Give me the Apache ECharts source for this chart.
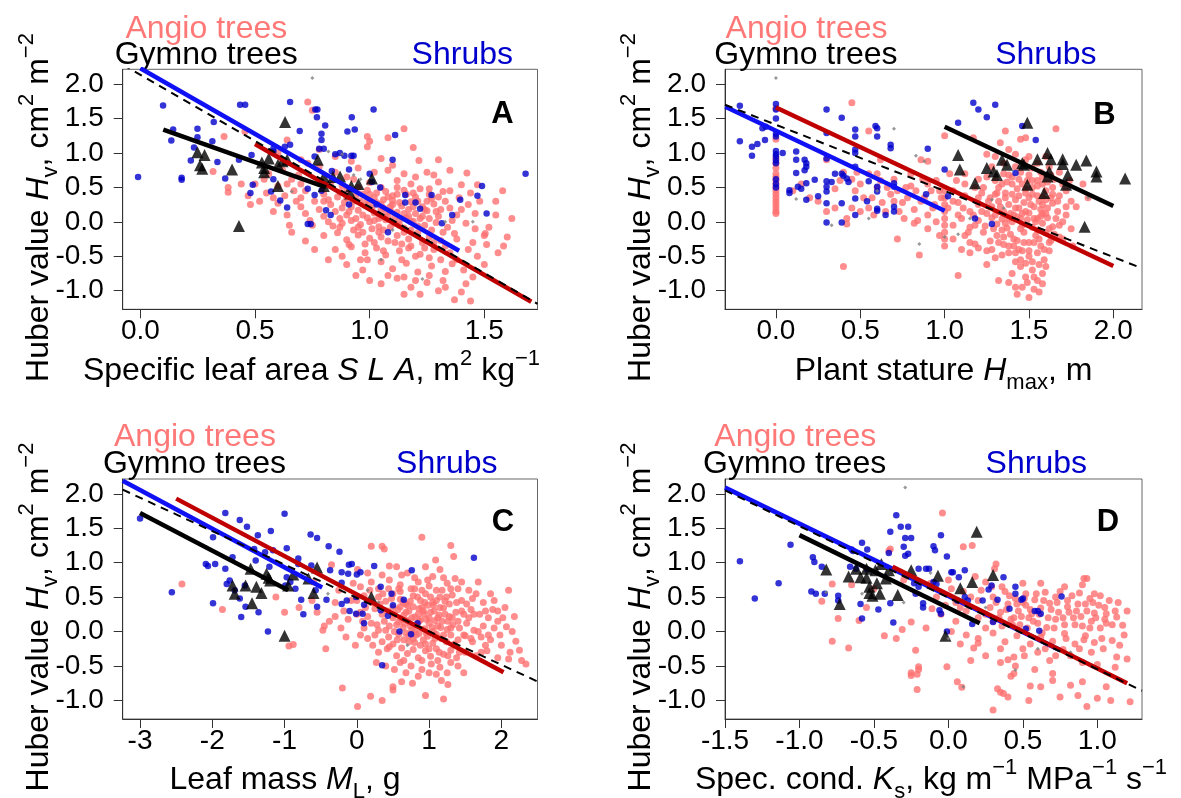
<!DOCTYPE html>
<html><head><meta charset="utf-8">
<script src="https://cdn.jsdelivr.net/npm/echarts@6/dist/echarts.min.js"></script>
<style>html,body{margin:0;padding:0;background:#fff}#c{width:1181px;height:798px}</style>
</head><body><div id="c"></div>
<script>
// ---------- Panel A: Specific leaf area ----------
const A_angio = [[0.73,1.74],[0.75,1.62],[0.365,1.24],[0.456,1.31],[0.317,0.73],[0.383,0.50],[0.383,0.43],[0.64,1.19],[1.15,1.35],[0.99,1.24],[1.0,1.17],[0.99,1.09],[1.08,1.22],[1.19,1.08],[1.215,0.89],[1.424,0.71],[0.85,0.95],[0.92,0.88],[0.78,1.05],[1.05,0.92],[1.3,0.9],[0.7,0.9],[0.6,1.0],
[0.85,0.72],[0.95,0.78],[1.08,0.75],[1.15,0.70],[1.25,0.72],[0.62,0.75],[0.56,0.70],[1.35,0.75],
[0.70,0.55],[0.78,0.60],[0.88,0.52],[0.93,0.62],[1.00,0.57],[1.05,0.50],[1.12,0.60],[1.18,0.55],[1.22,0.48],[1.30,0.58],[1.40,0.54],[1.47,0.54],[0.60,0.52],[0.50,0.55],[0.66,0.62],
[0.55,0.42],[0.63,0.38],[0.72,0.45],[0.80,0.40],[0.86,0.36],[0.90,0.45],[0.97,0.40],[1.02,0.35],[1.07,0.44],[1.10,0.38],[1.15,0.46],[1.20,0.36],[1.26,0.40],[1.32,0.44],[0.47,0.38],[0.68,0.30],
[0.60,0.27],[0.70,0.22],[0.76,0.30],[0.83,0.25],[0.88,0.20],[0.93,0.30],[0.98,0.24],[1.03,0.28],[1.06,0.20],[1.10,0.31],[1.14,0.23],[1.18,0.29],[1.23,0.22],[1.28,0.26],[1.35,0.20],[0.52,0.30],
[0.72,0.12],[0.80,0.08],[0.85,0.15],[0.90,0.10],[0.95,0.17],[0.99,0.06],[1.02,0.13],[1.05,0.18],[1.08,0.09],[1.12,0.14],[1.16,0.06],[1.20,0.12],[1.25,0.16],[1.30,0.08],[1.38,0.10],[0.64,0.10],
[0.75,-0.05],[0.82,0.00],[0.87,-0.08],[0.92,0.02],[0.96,-0.04],[1.00,0.00],[1.04,-0.07],[1.07,0.03],[1.11,-0.02],[1.15,-0.09],[1.19,0.01],[1.24,-0.05],[1.29,-0.01],[1.34,-0.08],[1.42,-0.02],[0.93,-0.12],
[0.80,-0.20],[0.86,-0.16],[0.90,-0.26],[0.95,-0.19],[1.00,-0.24],[1.04,-0.15],[1.08,-0.28],[1.12,-0.20],[1.17,-0.25],[1.21,-0.16],[1.26,-0.22],[1.31,-0.27],[1.37,-0.17],[0.72,-0.28],[1.45,-0.30],
[0.85,-0.40],[0.92,-0.36],[0.98,-0.45],[1.03,-0.38],[1.07,-0.48],[1.13,-0.42],[1.18,-0.35],[1.22,-0.47],[1.28,-0.40],[1.35,-0.45],[1.43,-0.40],[0.88,-0.50],
[0.90,-0.62],[0.97,-0.70],[1.05,-0.58],[1.10,-0.68],[1.16,-0.60],[1.21,-0.73],[1.27,-0.64],[1.33,-0.72],[1.36,-0.61],[0.82,-0.55],
[1.00,-0.85],[1.05,-0.90],[1.12,-0.82],[1.18,-0.95],[1.25,-0.88],[1.30,-1.00],[1.22,-1.05],[1.37,-1.13],[1.44,-1.15],[1.42,-0.90],[1.40,-1.02],[1.08,-0.78],
[0.97,0.10],[1.01,0.20],[1.04,0.05],[1.09,0.16],[1.13,0.02],[1.17,0.18],[1.06,-0.12],[1.10,0.25],[0.94,0.05],[1.18,-0.12],[1.02,-0.30],[1.14,-0.32],[0.99,0.32],[1.08,0.36],[0.89,0.28],[1.21,0.30],[1.26,0.05],[1.31,0.18],[0.84,-0.06],[0.91,-0.33],[1.23,-0.30],[1.27,0.34],[1.16,0.40],[1.12,0.50],[0.95,0.50],
[1.504,-0.17],[1.584,-0.35],[1.51,-0.33],[1.55,0.10],[1.60,-0.22],[1.52,-0.08],[1.48,0.30],[1.55,0.30],[1.47,-0.50],[1.50,-0.62],[1.32,-0.85],[1.15,-1.05],[0.96,-0.55],[0.76,-0.40],[0.78,0.80],[0.58,0.15],[0.66,-0.15],
[0.82,0.32],[0.87,0.43],[0.91,0.15],[0.94,0.38],[0.97,-0.15],[0.99,0.46],[1.01,-0.1],[1.03,0.42],[1.05,0.08],[1.06,0.32],[1.09,-0.08],[1.11,0.07],[1.13,0.28],[1.15,-0.15],[1.17,0.08],[1.19,0.22],[1.21,-0.06],[1.23,0.08],[1.25,0.30],[1.27,-0.12],[1.29,0.15],[1.32,-0.15],[1.33,0.30],[1.36,0.02],[1.39,0.35],[0.88,-0.02],[0.92,0.22],[0.96,0.30],[0.98,-0.32],[1.0,0.40],[1.02,0.02],[1.05,-0.22],[1.07,0.12],[1.09,0.22],[1.11,-0.30],[1.13,-0.05],[1.15,0.12],[1.17,-0.38],[1.19,0.42],[1.22,0.05],[1.24,-0.38],[1.26,0.48],[1.28,-0.30],[1.3,0.36],[1.33,-0.35],[1.35,0.45],[1.38,-0.25],[1.4,0.18],[0.78,0.18],[0.74,0.02],[0.7,0.35],[0.67,0.45],[0.64,0.55],[0.58,0.35],[0.54,0.62],[0.65,-0.05],[0.83,0.55],[0.9,0.65],[1.02,0.72],[1.1,0.82],[1.2,0.65],[1.28,0.68],[0.99,-0.55],[1.06,-0.42],[1.14,-0.55],[1.2,-0.5],[1.26,-0.52],[1.31,-0.55],[1.38,-0.55],[1.41,-0.7],[1.45,-0.8],[0.94,-0.78],[1.15,-0.8],[1.26,-0.78],[1.33,-0.95],[1.2,-0.85],[0.87,0.05],[0.95,-0.08],[1.0,0.28],[1.12,0.4],[1.05,0.25],[1.18,0.0],[1.24,0.18],[0.9,0.35],[0.8,0.3],[1.46,0.12],[1.43,0.25],[1.5,-0.2],[1.46,-0.1],[1.56,-0.45],[1.62,0.05],[1.58,0.45],[1.44,0.42],[0.69,0.68],[0.73,0.85],[0.48,0.25],[0.44,0.55]];
const A_shrub = [[0.099,1.69],[-0.01,0.65],[0.18,0.64],[0.18,0.61],[0.135,1.18],[0.143,1.34],[0.249,1.35],[0.249,1.23],[0.234,1.08],[0.22,0.89],[0.314,1.17],[0.32,1.45],[0.336,0.87],[0.37,0.63],[0.435,1.70],[0.457,1.70],[0.43,0.90],[0.49,0.54],[0.48,0.42],[0.485,0.97],[0.653,1.74],[0.695,1.32],[0.653,1.12],[0.58,1.06],[0.58,1.02],[0.63,1.09],[0.58,0.62],[0.57,0.44],[0.61,0.31],[0.64,0.21],[0.743,-0.03],
[0.763,1.63],[0.772,1.63],[0.77,1.52],[1.017,1.63],[0.806,1.40],[0.922,1.52],[0.903,1.31],[0.935,1.34],[0.79,1.28],[0.79,1.19],[0.78,1.06],[0.80,1.06],[0.85,0.98],[0.87,1.0],[0.89,0.96],[0.92,0.96],[0.93,0.96],[1.111,1.26],[1.10,0.90],[0.76,0.95],[0.835,0.74],[0.91,0.76],[1.0,0.70],[1.01,0.58],[1.046,0.50],[1.155,0.39],[1.27,0.39],[1.155,0.28],[1.20,0.28],[1.22,0.19],[1.315,-0.02],[1.08,-0.15],[1.36,0.10],[1.395,0.32],[1.47,0.38],[1.49,0.52],[1.51,0.12],[0.73,-0.03],[0.81,0.17],[0.83,0.10],[0.91,0.25],[1.03,0.25],[0.73,0.48],[0.76,0.39],[0.79,0.45],[1.68,0.70]];
const A_gymno = [[0.249,1.01],[0.28,0.97],[0.26,0.82],[0.27,0.77],[0.40,0.76],[0.43,-0.06],[0.631,1.45],[0.53,0.86],[0.54,0.78],[0.56,0.92],[0.60,0.83],[0.62,0.88],[0.64,0.90],[0.54,0.72],[0.60,0.52],[0.774,0.90],[0.80,0.65],[0.80,0.52],[0.84,0.65],[0.871,0.66],[0.915,0.41],[0.951,0.55],[1.01,0.63],[0.92,0.52]];
const A_other = [[0.75,2.09],[0.66,0.44],[0.88,0.98],[0.93,0.68],[1.1,-0.12],[1.33,0.0],[1.23,-0.83],[1.05,-0.55],[1.45,0.0],[0.96,0.62],[0.82,1.02]];
const A_fitAngio = [[0.5,1.13],[1.705,-1.16]];
const A_fitShrub = [[0.0,2.23],[1.39,-0.42]];
const A_fitGymno = [[0.10,1.34],[0.81,0.50]];
const A_fitAll = [[-0.077,2.283],[1.732,-1.19]];

// ---------- Panel B: Plant stature ----------
const B_angio = [[0,1.65],[0,1.2],[0,0.92],[0,0.85],[0,0.78],[0,0.7],[0,0.65],[0,0.6],[0,0.55],[0,0.5],[0,0.45],[0,0.4],[0,0.35],[0,0.3],[0,0.25],[0,0.2],[0,0.15],[0,0.12],
[0.45,1.73],[0.4,0.72],[0.38,0.6],[0.45,0.2],[0.42,0.05],[0.40,-0.65],[0.42,-0.03],[0.5,0.55],[0.52,0.35],[0.55,0.2],[0.55,1.32],[0.6,0.7],[0.6,0.5],[0.62,0.9],[0.63,0.28],[0.65,0.15],[0.68,0.4],[0.7,0.62],[0.72,0.45],[0.72,-0.25],[0.75,0.28],[0.76,0.05],[0.78,0.35],[0.8,0.52],[0.82,0.18],[0.82,-0.02],[0.84,0.02],[0.86,0.9],[0.87,0.62],[0.88,0.35],[0.9,0.1],[0.9,-0.1],[0.92,0.45],[0.93,0.2],[0.95,0.0],[0.95,0.6],[0.97,-0.2],[0.98,0.35],[0.85,-0.48],[0.35,0.48],[0.25,0.3],[0.3,0.9],[0.48,0.72],[0.57,0.35],
[1.0,1.25],[1.0,0.45],[1.0,0.35],[1.0,0.25],[1.0,0.15],[1.0,0.05],[1.0,-0.05],[1.0,-0.15],[1.0,-0.25],[1.0,-0.35],
[1.17,1.22],[1.33,1.15],[1.38,1.05],[1.45,1.2],[1.48,1.22],[1.42,0.98],[1.5,0.95],[1.36,1.32],[1.66,1.35],[1.25,0.98],
[1.12,0.7],[1.2,0.62],[1.28,0.8],[1.35,0.7],[1.4,0.65],[1.45,0.72],[1.52,0.78],[1.58,0.65],[1.62,0.8],[1.55,0.6],[1.3,0.6],[1.68,0.72],
[1.05,0.45],[1.12,0.38],[1.18,0.5],[1.22,0.42],[1.27,0.35],[1.32,0.5],[1.36,0.42],[1.4,0.55],[1.44,0.38],[1.48,0.48],[1.52,0.4],[1.55,0.52],[1.58,0.36],[1.6,0.45],[1.64,0.5],[1.68,0.38],[1.72,0.45],
[1.02,0.2],[1.08,0.28],[1.15,0.15],[1.2,0.25],[1.25,0.12],[1.28,0.22],[1.32,0.3],[1.35,0.15],[1.38,0.25],[1.41,0.1],[1.44,0.2],[1.47,0.28],[1.5,0.13],[1.53,0.22],[1.56,0.3],[1.58,0.12],[1.61,0.2],[1.64,0.27],[1.67,0.15],[1.72,0.22],
[1.05,-0.05],[1.1,0.05],[1.15,-0.08],[1.2,0.02],[1.24,-0.06],[1.28,0.06],[1.31,-0.03],[1.34,0.04],[1.37,-0.09],[1.4,0.0],[1.43,0.07],[1.46,-0.05],[1.49,0.03],[1.52,-0.08],[1.55,0.05],[1.58,-0.02],[1.61,0.06],[1.64,-0.07],[1.7,0.0],
[1.05,-0.25],[1.12,-0.2],[1.18,-0.32],[1.23,-0.15],[1.27,-0.28],[1.31,-0.2],[1.35,-0.33],[1.39,-0.18],[1.43,-0.27],[1.47,-0.15],[1.5,-0.3],[1.54,-0.2],[1.57,-0.35],[1.6,-0.16],[1.63,-0.27],[1.68,-0.22],
[1.15,-0.45],[1.25,-0.42],[1.3,-0.52],[1.38,-0.45],[1.42,-0.58],[1.46,-0.42],[1.5,-0.5],[1.55,-0.45],[1.59,-0.55],[1.62,-0.42],[1.2,-0.38],
[1.4,-0.75],[1.45,-0.65],[1.48,-0.8],[1.52,-0.7],[1.55,-0.85],[1.58,-0.75],[1.38,-0.88],[1.32,-0.85],[1.42,-0.95],[1.5,-1.1],[1.53,-0.98],[1.56,-1.02],[1.6,-0.65],[1.08,-0.78],[1.25,-0.62],
[1.82,0.55],[1.78,0.22],[1.75,-0.1],[1.85,0.35],[1.76,-0.35],[0.9,0.88],
[1.38,0.05],[1.42,0.32],[1.46,0.12],[1.5,0.35],[1.53,0.05],[1.57,0.18],[1.45,-0.1],[1.48,0.42],[1.36,0.35],[1.6,0.32],[1.62,-0.1],[1.34,-0.12],[1.55,-0.12],[1.41,-0.35],[1.3,0.4],[1.52,0.6],[1.65,0.62],[1.22,0.15],[1.18,-0.05],[1.58,0.55],
[1.3,0.1],[1.33,0.22],[1.36,-0.02],[1.39,0.12],[1.42,0.2],[1.45,0.05],[1.48,0.15],[1.51,0.25],[1.54,0.0],[1.57,0.08],[1.6,0.12],[1.63,0.35],[1.66,0.05],[1.31,0.42],[1.34,0.55],[1.37,0.58],[1.4,0.4],[1.43,0.48],[1.46,0.55],[1.49,0.6],[1.52,0.5],[1.55,0.38],[1.58,0.25],[1.61,0.58],[1.64,0.4],[1.67,0.3],[1.7,0.55],[1.29,-0.1],[1.32,-0.3],[1.35,-0.22],[1.38,-0.35],[1.41,-0.25],[1.44,-0.4],[1.47,-0.3],[1.5,-0.42],[1.53,-0.3],[1.56,-0.25],[1.59,-0.4],[1.62,-0.3],[1.65,-0.18],[1.68,-0.05],[1.26,0.3],[1.23,0.5],[1.2,0.35],[1.17,0.1],[1.14,-0.15],[1.11,0.2],[1.08,0.1],[1.05,0.3],[1.35,0.85],[1.42,0.8],[1.48,0.9],[1.55,0.85],[1.6,0.95],[1.3,0.95],[1.25,0.65],[1.5,0.68],[1.44,0.62],[1.38,0.68],[1.57,0.72],[1.63,0.68],[1.45,-0.55],[1.48,-0.6],[1.52,-0.58],[1.56,-0.62],[1.42,-0.45],[1.34,-0.48],[1.28,-0.4],[1.53,-0.8],[1.49,-0.88],[1.46,-0.95],[1.58,-0.9],[1.43,-1.05],[1.1,-0.4],[1.15,-0.3],[1.12,0.55],[1.07,0.6],[1.03,0.7],[0.97,0.45],[0.94,0.25],[0.9,0.55],[0.86,0.3],[0.83,0.45],[0.8,0.7],[0.77,0.5],[0.73,0.15],[0.7,0.3],[0.66,0.5],[0.62,0.6],[0.58,0.1],[0.55,0.7],[0.5,0.15],[0.47,0.45],[0.45,0.62],[0.35,0.2],[0.2,0.35],[0.15,0.55],[0.1,0.45],[0.3,0.15],[1.72,0.1],[1.75,0.3],[1.7,-0.25],[1.74,0.6]];
const B_shrub = [[-0.214,1.685],[-0.214,1.17],[-0.142,1.09],[-0.142,0.96],[-0.11,1.13],[-0.065,1.19],[-0.08,1.36],[-0.06,1.38],
[0,1.71],[0,1.63],[0,1.50],[0,1.28],[0,1.24],[0,1.03],[0,0.98],[0,0.95],[0,0.89],[0,0.85],[0,0.62],[0,0.55],[0,0.50],
[0.04,1.0],[0.08,0.46],[0.08,0.42],[0.12,1.02],[0.12,0.90],[0.12,0.71],[0.13,0.51],[0.15,0.48],[0.17,0.90],[0.18,0.85],[0.18,0.80],[0.17,0.75],[0.18,0.56],[0.18,0.32],[0.23,0.61],[0.25,0.37],
[0.30,1.63],[0.30,1.29],[0.30,0.92],[0.30,0.59],[0.30,0.51],[0.30,0.44],[0.30,0.27],[0.30,-0.01],[0.33,0.58],[0.35,0.70],[0.39,1.51],[0.39,0.70],[0.40,0.67],[0.42,0.63],[0.39,0.27],[0.39,-0.01],[0.43,0.58],
[0.47,1.34],[0.47,1.24],[0.47,1.05],[0.47,1.0],[0.47,0.80],[0.47,0.34],[0.47,0.10],[0.54,0.30],[0.55,0.59],[0.59,1.39],[0.6,1.36],[0.6,1.24],[0.6,0.51],[0.6,0.44],[0.6,0.19],[0.6,0.16],[0.65,0.10],[0.68,1.12],[0.68,1.07],[0.7,0.56],[0.7,0.51],[0.7,0.22],[0.7,0.15],
[0.89,0.40],[0.90,1.06],[1.0,0.76],[1.02,0.37],[1.08,1.44],[1.17,1.73],[1.2,1.63],[1.25,1.52],[1.30,1.70],[1.46,1.39],[1.54,1.19],[1.18,0.05],[1.28,-0.03],[1.42,0.71]];
const B_gymno = [[1.08,0.97],[1.09,0.76],[1.18,0.56],[1.25,0.78],[1.29,0.73],[1.31,0.68],[1.34,0.90],[1.37,0.83],[1.46,0.85],[1.47,0.83],[1.49,1.44],[1.49,0.54],[1.55,0.91],[1.59,0.42],[1.61,1.0],[1.63,0.91],[1.61,0.66],[1.62,0.73],[1.70,0.91],[1.70,0.84],[1.73,0.68],[1.78,0.83],[1.84,0.89],[1.90,0.73],[1.90,0.66],[2.07,0.63],[1.83,-0.07],[1.72,0.54]];
const B_other = [[0,2.09],[0.7,1.35],[0.12,0.33],[0.55,0.05],[0.33,-0.05],[0.83,0.96],[0.88,0.88],[0.85,-0.32],[1.0,-0.22],[1.08,-0.18],[1.35,0.2],[1.28,0.32],[1.85,0.35],[0.6,0.45],[1.15,0.05]];
const B_fitAngio = [[0,1.66],[2.0,-0.64]];
const B_fitShrub = [[-0.3,1.67],[1.0,0.16]];
const B_fitGymno = [[1.0,1.38],[2.0,0.23]];
const B_fitAll = [[-0.302,1.70],[2.17,-0.675]];

// ---------- Panel C: Leaf mass ----------
const C_angio = [[-2.42,0.69],[-1.86,0.32],[-1.12,0.50],[-1.0,0.28],[-0.94,-0.21],[-0.88,-0.19],[-0.80,0.35],[-0.62,0.45],[-0.55,0.28],[-0.47,0.02],[-0.43,-0.25],[-0.35,0.97],[-0.38,0.15],[-0.30,0.42],[-0.25,0.60],[-0.22,0.05],[-0.18,0.30],[-0.15,-0.08],[-0.12,0.18],[-0.08,0.45],[-0.05,0.70],[-0.45,0.08],[-0.3,0.22],[-0.6,0.72],
[0.2,1.24],[0.35,1.24],[0.38,1.20],[0.9,1.37],[0.95,0.94],[1.09,1.04],[1.3,1.25],[1.34,1.09],[1.36,0.77],[0.55,0.94],[0.01,0.90],[0.7,0.85],[1.15,0.9],[0.45,0.95],
[0.05,0.65],[0.2,0.72],[0.3,0.62],[0.45,0.75],[0.6,0.68],[0.75,0.62],[0.85,0.72],[1.0,0.66],[1.1,0.60],[1.25,0.70],[1.4,0.62],[1.55,0.60],[1.68,0.72],
[0.0,0.45],[0.1,0.52],[0.2,0.42],[0.3,0.50],[0.4,0.44],[0.5,0.55],[0.6,0.47],[0.68,0.40],[0.78,0.52],[0.88,0.45],[0.95,0.55],[1.05,0.42],[1.15,0.50],[1.22,0.44],[1.32,0.53],[1.45,0.45],[1.6,0.48],[1.75,0.42],[1.85,0.55],
[0.05,0.28],[0.15,0.22],[0.25,0.33],[0.35,0.25],[0.42,0.30],[0.5,0.20],[0.57,0.32],[0.65,0.24],[0.72,0.30],[0.8,0.21],[0.86,0.33],[0.93,0.26],[1.0,0.20],[1.07,0.30],[1.14,0.24],[1.2,0.34],[1.28,0.22],[1.37,0.28],[1.48,0.25],[1.58,0.32],[1.7,0.25],[1.82,0.20],[1.95,0.30],
[0.1,0.05],[0.2,0.12],[0.3,0.02],[0.38,0.15],[0.45,0.08],[0.52,0.0],[0.58,0.14],[0.64,0.06],[0.7,0.16],[0.76,0.02],[0.82,0.10],[0.88,0.17],[0.94,0.04],[1.0,0.12],[1.06,0.0],[1.12,0.08],[1.18,0.15],[1.25,0.03],[1.33,0.10],[1.42,0.05],[1.52,0.12],[1.62,0.02],[1.75,0.08],[1.9,0.05],[2.07,0.07],[2.15,0.0],
[0.15,-0.10],[0.25,-0.05],[0.35,-0.15],[0.44,-0.08],[0.5,-0.18],[0.58,-0.04],[0.65,-0.12],[0.72,-0.06],[0.8,-0.16],[0.86,-0.03],[0.92,-0.12],[0.98,-0.07],[1.05,-0.17],[1.1,-0.04],[1.17,-0.10],[1.24,-0.15],[1.3,-0.05],[1.4,-0.12],[1.5,-0.06],[1.6,-0.15],[1.72,-0.08],[1.85,-0.12],[2.2,-0.14],
[0.3,-0.3],[0.42,-0.25],[0.55,-0.35],[0.62,-0.24],[0.7,-0.32],[0.78,-0.26],[0.85,-0.38],[0.95,-0.28],[1.02,-0.36],[1.1,-0.25],[1.2,-0.33],[1.3,-0.27],[1.38,-0.38],[1.5,-0.3],[1.65,-0.35],[1.8,-0.28],[1.95,-0.38],[2.25,-0.27],
[0.4,-0.5],[0.6,-0.45],[0.75,-0.5],[0.9,-0.55],[1.03,-0.47],[1.15,-0.52],[1.3,-0.45],[1.48,-0.6],[2.34,-0.47],[2.28,-0.42],[1.1,-0.62],
[-0.2,-0.82],[0.01,-1.09],[0.19,-0.94],[0.35,-1.0],[0.5,-0.8],[0.62,-0.73],[0.77,-0.75],[0.95,-0.93],[1.2,-0.98],[1.26,-0.77],[1.17,-0.71],[0.5,-0.85],
[2.1,0.6],[2.05,0.35],[1.95,0.15],[2.0,-0.2],[1.88,0.32],[1.78,-0.2],[2.12,-0.3],
[0.55,0.1],[0.62,0.18],[0.68,-0.02],[0.74,0.08],[0.8,0.0],[0.85,0.25],[0.9,0.35],[0.96,0.18],[1.02,0.28],[1.08,0.16],[0.7,0.38],[0.6,0.36],[0.5,0.35],[0.45,-0.22],[0.78,-0.1],[1.15,0.35],[1.26,0.15],[0.95,-0.18],
[0.12,0.35],[0.18,0.6],[0.22,-0.2],[0.28,0.1],[0.32,0.4],[0.36,0.55],[0.4,0.02],[0.44,0.62],[0.48,0.48],[0.52,0.25],[0.56,-0.12],[0.6,0.58],[0.64,0.42],[0.66,0.12],[0.68,0.28],[0.72,-0.15],[0.74,0.44],[0.76,0.2],[0.78,0.36],[0.82,-0.05],[0.84,0.5],[0.86,0.15],[0.88,-0.2],[0.9,0.6],[0.92,0.3],[0.94,0.42],[0.96,-0.02],[0.98,0.38],[1.0,-0.25],[1.02,0.5],[1.04,0.06],[1.06,0.38],[1.08,-0.1],[1.1,0.45],[1.12,0.2],[1.14,-0.3],[1.16,0.06],[1.18,0.6],[1.2,-0.05],[1.22,0.25],[1.24,0.5],[1.26,-0.35],[1.28,0.4],[1.3,0.05],[1.32,0.2],[1.35,-0.18],[1.38,0.42],[1.4,0.15],[1.42,-0.3],[1.45,0.3],[1.48,-0.05],[1.52,0.4],[1.55,0.2],[1.58,-0.1],[1.62,0.25],[1.65,0.55],[1.68,0.0],[1.72,-0.3],[1.78,0.3],[1.82,-0.05],[1.9,0.45],[1.98,-0.05],[2.02,0.2],[2.1,-0.4],[2.18,0.22],[0.62,0.82],[0.8,0.78],[1.05,0.8],[1.2,0.78],[0.35,0.82],[0.15,0.85],[0.08,0.15],[0.05,-0.05],[0.0,0.25],[-0.02,-0.2],[0.27,-0.45],[0.52,-0.55],[0.68,-0.6],[0.85,-0.65],[1.0,-0.6],[1.25,-0.6],[1.4,-0.5],[0.9,-0.42],[0.65,-0.42],[1.12,-0.42],[0.58,0.62],[0.8,0.62],[0.98,0.75],[1.3,0.62],[1.45,0.72]];
const C_shrub = [[-3.0,1.64],[-2.56,0.57],[-2.09,0.98],[-2.06,0.95],[-1.96,0.98],[-1.99,1.37],[-1.99,0.41],[-1.82,1.72],[-1.82,0.91],[-1.8,0.69],[-1.76,0.74],[-1.72,1.08],[-1.69,0.60],[-1.62,1.62],[-1.62,0.48],[-1.6,0.21],[-1.55,0.67],[-1.54,0.36],[-1.52,1.52],[-1.42,1.20],[-1.4,1.03],[-1.37,1.40],[-1.36,0.28],[-1.27,1.15],[-1.23,0.0],[-1.19,1.46],[-1.21,0.94],[-1.16,1.18],[-1.0,1.71],[-0.97,1.21],[-0.97,0.79],[-0.99,0.67],[-0.92,0.72],[-0.85,0.62],[-0.81,1.06],[-0.81,0.98],[-0.77,0.46],[-0.74,0.25],[-0.64,1.41],[-0.63,0.96],[-0.57,0.60],[-0.55,1.36],[-0.55,0.36],[-0.42,0.46],[-0.37,0.89],[-0.39,1.24],[-0.24,1.16],[-0.21,0.86],[-0.21,0.71],[-0.21,0.40],[-0.14,0.45],[-0.11,0.97],[-0.07,0.98],[-0.12,0.84],[-0.1,0.30],[-0.01,0.26],[0.08,0.26],[0.0,0.83],[0.05,0.86],[-0.01,0.50],[0.1,0.12],[0.1,0.39],[0.24,0.95],[0.33,0.65],[0.33,0.31],[0.35,-0.49],[0.43,0.23],[0.48,0.55],[0.5,0.38],[0.59,0.0],[0.65,0.46],[0.75,-0.04],[0.76,0.89],[0.84,0.12],[1.62,1.07]];
const C_gymno = [[-1.72,0.67],[-1.69,0.55],[-1.54,0.67],[-1.47,0.91],[-1.45,0.41],[-1.39,0.65],[-1.32,0.56],[-1.25,0.84],[-1.22,0.78],[-1.2,0.74],[-1.0,-0.06],[-0.95,0.67],[-0.88,0.83],[-0.67,0.77],[-0.6,0.56],[-0.55,0.93],[0.2,0.5]];
const C_other = [[0.3,0.42],[-0.4,0.55],[0.15,0.6],[0.7,-0.2]];
const C_fitAngio = [[-2.5,1.93],[2.03,-0.59]];
const C_fitShrub = [[-3.24,2.19],[-0.48,0.64]];
const C_fitGymno = [[-3.0,1.72],[-0.95,0.60]];
const C_fitAll = [[-3.24,2.06],[2.51,-0.73]];

// ---------- Panel D: Specific conductivity ----------
const D_angio = [[-0.04,1.72],[0.16,1.25],[0.1,1.23],[-0.39,1.20],[-0.4,1.17],[-0.85,0.44],[-0.78,0.69],[-0.74,0.19],[-0.78,-0.14],[-0.67,-0.24],[-0.6,0.16],[-0.55,0.35],[-0.43,-0.06],[-0.35,-0.10],[-0.31,0.03],[-0.25,0.14],[-0.25,-0.6],[-0.25,-0.64],[-0.21,-0.62],[-0.2,-0.55],[-0.21,-0.84],[-0.22,-0.27],[-0.2,-0.51],[-0.11,0.33],[-0.01,-0.51],[0.06,-0.73],[0.09,-0.81],[0.17,-0.24],[0.2,-0.17],[0.29,0.65],[0.31,0.91],[0.32,0.98],
[0.3,-1.14],[0.33,-0.83],[0.35,-0.88],[0.37,-0.9],[0.4,-0.95],[0.42,-0.65],[0.44,-0.61],[0.55,-0.79],[0.54,-1.0],[0.62,-0.8],[0.7,-0.61],[0.7,-0.71],[0.75,-0.95],[0.82,-0.78],[0.87,-0.93],[0.9,-0.73],[0.93,-1.09],[1.0,-0.97],[1.09,-1.0],[1.06,-0.8],[1.12,-0.52],[1.22,-1.02],[1.17,0.09],[1.13,0.21],[1.06,0.26],[1.06,0.12],[0.98,0.55],[0.91,0.77],[0.93,0.77],[1.13,-0.37],[1.1,-0.13],[1.04,-0.25],[0.77,-0.26],[0.51,-0.35],[0.4,-0.41],[0.44,-0.37],
[0.3,0.5],[0.38,0.58],[0.45,0.48],[0.52,0.55],[0.58,0.46],[0.65,0.57],[0.72,0.5],[0.8,0.45],[0.88,0.56],[0.95,0.48],[1.02,0.52],
[0.28,0.35],[0.35,0.28],[0.4,0.4],[0.47,0.3],[0.52,0.38],[0.56,0.26],[0.62,0.34],[0.68,0.41],[0.74,0.28],[0.8,0.36],[0.86,0.3],[0.92,0.4],[0.98,0.27],[1.05,0.35],[1.12,0.3],[0.5,0.42],[0.44,0.2],
[0.3,0.15],[0.36,0.08],[0.42,0.18],[0.48,0.1],[0.54,0.2],[0.6,0.12],[0.66,0.06],[0.72,0.18],[0.78,0.1],[0.84,0.2],[0.9,0.08],[0.96,0.15],[1.02,0.05],[0.25,0.05],[0.2,0.2],
[0.12,-0.05],[0.2,-0.1],[0.3,-0.02],[0.38,-0.15],[0.46,-0.06],[0.55,-0.18],[0.62,-0.08],[0.7,-0.14],[0.78,-0.03],[0.85,-0.18],[0.92,-0.06],[0.98,-0.16],[0.08,-0.18],[0.02,0.0],
[0.25,-0.35],[0.35,-0.45],[0.6,-0.3],[0.68,-0.42],[0.82,-0.35],[0.9,-0.45],[0.96,-0.3],[1.0,-0.48],[1.15,-0.2],[1.2,-0.4],[0.15,-0.42],
[-0.5,0.62],[-0.3,0.75],[-0.12,0.7],[-0.08,0.5],[0.02,0.62],[0.08,0.35],[0.15,0.5],[0.18,0.8],[0.25,0.72],[-0.05,0.25],[0.05,0.15],[-0.15,0.05],[-0.65,0.68],
[0.32,0.42],[0.34,0.2],[0.39,0.32],[0.41,0.52],[0.43,0.1],[0.46,0.4],[0.49,0.22],[0.51,0.48],[0.53,0.05],[0.55,0.32],[0.57,0.15],[0.59,0.55],[0.61,0.25],[0.63,-0.02],[0.64,0.45],[0.67,0.2],[0.69,0.32],[0.71,0.05],[0.73,0.42],[0.75,0.58],[0.77,0.2],[0.79,-0.1],[0.81,0.28],[0.83,0.52],[0.85,0.1],[0.87,0.4],[0.89,0.22],[0.91,-0.12],[0.93,0.3],[0.95,0.05],[0.97,0.42],[0.99,0.2],[1.01,0.38],[1.03,-0.1],[1.05,0.18],[1.08,0.45],[1.1,0.1],[1.14,0.42],[1.18,-0.05],[1.2,0.3],[0.36,0.65],[0.5,0.7],[0.62,0.7],[0.78,0.65],[0.9,0.68],[0.2,0.45],[0.22,0.6],[0.25,0.25],[0.12,0.3],[0.1,0.58],[0.05,0.42],[-0.02,0.38],[0.0,0.75],[0.35,-0.25],[0.5,-0.25],[0.65,-0.25],[0.72,-0.35],[0.88,-0.25],[0.45,-0.5],[0.58,-0.55]];
const D_shrub = [[-1.40,1.02],[-1.30,0.48],[-1.14,0.70],[-1.06,1.26],[-0.91,1.08],[-0.90,1.01],[-0.85,0.94],[-0.92,0.58],[-0.89,0.55],[-0.83,0.55],[-0.74,0.52],[-0.74,0.45],[-0.65,1.19],[-0.64,1.17],[-0.66,0.94],[-0.62,0.91],[-0.59,0.40],[-0.58,1.29],[-0.58,0.19],[-0.545,1.19],[-0.545,0.90],[-0.47,0.32],[-0.40,1.14],[-0.39,1.45],[-0.39,0.41],[-0.37,0.13],[-0.35,1.69],[-0.32,1.52],[-0.30,1.23],[-0.29,1.10],[-0.29,1.36],[-0.27,1.52],[-0.27,1.13],[-0.25,1.36],[-0.25,0.79],[-0.23,0.70],[-0.22,0.55],[-0.2,0.91],[-0.2,0.65],[-0.17,0.41],[-0.17,0.35],[-0.15,0.91],[-0.13,0.91],[-0.1,1.24],[-0.09,1.18],[-0.1,0.72],[-0.08,0.69],[-0.06,0.31],[-0.05,0.26],[-0.05,1.40],[-0.01,1.09],[-0.01,0.0],[0.02,0.86],[0.03,0.86],[0.06,0.45],[0.07,0.79],[0.11,0.89],[0.11,0.50],[0.13,0.45],[0.16,0.11],[0.23,0.45],[0.27,0.61],[0.29,0.67],[0.3,0.14],[0.33,0.46],[0.37,0.79],[0.41,0.33],[0.45,0.65],[0.45,0.55],[0.49,0.46],[0.5,0.48],[0.52,0.04],[0.58,0.30],[0.6,0.30],[0.61,0.01],[0.62,0.26],[0.76,0.51]];
const D_gymno = [[-0.82,0.90],[-0.73,0.40],[-0.67,0.80],[-0.62,0.91],[-0.59,0.79],[-0.55,0.91],[-0.55,0.78],[-0.53,0.65],[-0.53,0.56],[-0.51,0.52],[-0.49,0.89],[-0.48,0.70],[-0.46,0.55],[-0.45,0.98],[-0.42,0.77],[-0.40,0.89],[-0.34,0.53],[-0.25,0.89],[-0.07,0.81],[-0.02,-0.06],[0.08,0.63],[0.16,0.72],[0.19,1.45],[0.3,0.82]];
const D_other = [[-0.29,2.09],[-0.58,0.55],[-0.82,0.57],[0.1,-0.8],[0.45,-0.56],[0.6,-0.25],[0.82,-0.3],[-0.12,0.85],[0.0,-0.1],[0.25,0.35],[-0.3,0.42],[0.5,0.0]];
const D_fitAngio = [[-0.375,0.94],[1.2,-0.75]];
const D_fitShrub = [[-1.5,2.09],[0.75,-0.27]];
const D_fitGymno = [[-1.0,1.40],[0.21,0.12]];
const D_fitAll = [[-1.5,2.05],[1.3,-0.86]];

// ---------- Axes ----------
const xRangeA = [-0.077, 1.732], xRangeB = [-0.302, 2.17], xRangeC = [-3.24, 2.5], xRangeD = [-1.5, 1.30];
const yRange = [-1.27, 2.215];
const xTicksA = [0, 0.5, 1, 1.5];
const xTicksB = [0, 0.5, 1, 1.5, 2];
const xTicksC = [-3, -2, -1, 0, 1, 2];
const xTicksD = [-1.5, -1, -0.5, 0, 0.5, 1];
const yTicks = [-1, -0.5, 0, 0.5, 1, 1.5, 2];

const FONT = "'Liberation Sans', Arial, sans-serif";
const C_ANGIO = '#FF7070', C_ANGIO_TXT = '#FF7878', C_SHRUB = '#0000CC', C_SHRUB_LINE = '#1010F5', C_RED = '#C00000';

const panels = [
  {angio:A_angio, shrub:A_shrub, gymno:A_gymno, other:A_other, fa:A_fitAngio, fs:A_fitShrub, fg:A_fitGymno, fall:A_fitAll, xr:xRangeA, xt:xTicksA, dec:1},
  {angio:B_angio, shrub:B_shrub, gymno:B_gymno, other:B_other, fa:B_fitAngio, fs:B_fitShrub, fg:B_fitGymno, fall:B_fitAll, xr:xRangeB, xt:xTicksB, dec:1},
  {angio:C_angio, shrub:C_shrub, gymno:C_gymno, other:C_other, fa:C_fitAngio, fs:C_fitShrub, fg:C_fitGymno, fall:C_fitAll, xr:xRangeC, xt:xTicksC, dec:0},
  {angio:D_angio, shrub:D_shrub, gymno:D_gymno, other:D_other, fa:D_fitAngio, fs:D_fitShrub, fg:D_fitGymno, fall:D_fitAll, xr:xRangeD, xt:xTicksD, dec:1}
];
const grids = [
  {left:122.7, top:69.3, width:414.8, height:240},
  {left:725, top:69.3, width:417, height:240},
  {left:122.7, top:479, width:414.8, height:240},
  {left:725, top:479, width:417, height:240}
];

const xAxes = [], yAxes = [], series = [];
panels.forEach((p, i) => {
  grids[i].show = true; grids[i].borderColor = '#666'; grids[i].borderWidth = 1; grids[i].containLabel = false;
  xAxes.push({
    type:'value', gridIndex:i, min:p.xr[0], max:p.xr[1],
    axisLine:{show:true, onZero:false, lineStyle:{color:'#333', width:1}},
    axisTick:{show:true, inside:false, length:9, customValues:p.xt, lineStyle:{color:'#333'}},
    axisLabel:{show:true, customValues:p.xt, margin:8, fontSize:28, fontFamily:FONT, color:'#000',
      formatter:(v)=>Number(v).toFixed(p.dec)},
    splitLine:{show:false}
  });
  yAxes.push({
    type:'value', gridIndex:i, min:yRange[0], max:yRange[1],
    axisLine:{show:true, onZero:false, lineStyle:{color:'#333', width:1}},
    axisTick:{show:true, inside:false, length:9, customValues:yTicks, lineStyle:{color:'#333'}},
    axisLabel:{show:true, customValues:yTicks, margin:19, fontSize:28, fontFamily:FONT, color:'#000',
      formatter:(v)=>Number(v).toFixed(1)},
    splitLine:{show:false}
  });
  const base = {xAxisIndex:i, yAxisIndex:i, silent:true, animation:false};
  series.push(Object.assign({type:'scatter', data:p.angio, symbol:'circle', symbolSize:7, itemStyle:{color:C_ANGIO}}, base));
  series.push(Object.assign({type:'scatter', data:p.shrub, symbol:'circle', symbolSize:6.5, itemStyle:{color:C_SHRUB}}, base));
  series.push(Object.assign({type:'scatter', data:p.gymno, symbol:'triangle', symbolSize:12, itemStyle:{color:'#000'}}, base));
  series.push(Object.assign({type:'scatter', data:p.other, symbol:'diamond', symbolSize:4, itemStyle:{color:'#808080'}}, base));
  const ln = (data, color, width, type) => Object.assign({type:'line', data, symbol:'none', showSymbol:false, clip:true,
    lineStyle:{color, width, type, cap:'butt'}}, base);
  series.push(ln(p.fs, C_SHRUB_LINE, 4.5, 'solid'));
  series.push(ln(p.fa, C_RED, 4.5, 'solid'));
  series.push(ln(p.fg, '#000', 4.5, 'solid'));
  series.push(ln(p.fall, '#000', 2, [8, 6]));
});

// ---------- Texts ----------
const rich = {
  n:{fontSize:32, fontFamily:FONT, color:'#000', lineHeight:46, verticalAlign:'middle'},
  i:{fontSize:32, fontFamily:FONT, fontStyle:'italic', color:'#000', lineHeight:46, verticalAlign:'middle'},
  s:{fontSize:22, fontFamily:FONT, color:'#000', lineHeight:22, verticalAlign:'top'},
  b:{fontSize:22, fontFamily:FONT, color:'#000', lineHeight:22, verticalAlign:'bottom'}
};
function txt(text, x, y, opts) {
  return {type:'text', x, y, silent:true, style:Object.assign({text, fill:'#000', font:'32px ' + FONT,
    align:'left', verticalAlign:'middle', textAlign:'left', textVerticalAlign:'middle'}, opts||{})};
}
function richTxt(text, x, y, rot) {
  return {type:'text', x, y, rotation:rot||0, silent:true, style:{text, rich, align:'center', verticalAlign:'middle', textAlign:'center', textVerticalAlign:'middle'}};
}
const yTitle = '{n|Huber value }{i|H}{b|v}{n|, cm}{s|2}{n| m}{s|\u22122}';
const graphics = [
  txt('Angio trees', 125.4, 29, {fill:C_ANGIO_TXT}), txt('Gymno trees', 114.7, 55.5), txt('Shrubs', 513, 55.5, {fill:C_SHRUB, align:'right', textAlign:'right'}),
  txt('Angio trees', 725.6, 29, {fill:C_ANGIO_TXT}), txt('Gymno trees', 714.3, 55.5), txt('Shrubs', 1096.6, 55.5, {fill:C_SHRUB, align:'right', textAlign:'right'}),
  txt('Angio trees', 114, 437, {fill:C_ANGIO_TXT}), txt('Gymno trees', 102.9, 464), txt('Shrubs', 497.5, 464, {fill:C_SHRUB, align:'right', textAlign:'right'}),
  txt('Angio trees', 714.3, 437, {fill:C_ANGIO_TXT}), txt('Gymno trees', 703, 464), txt('Shrubs', 1087, 464, {fill:C_SHRUB, align:'right', textAlign:'right'}),
  txt('A', 502.5, 114, {font:'bold 31px ' + FONT, align:'center', textAlign:'center'}),
  txt('B', 1104.5, 115, {font:'bold 31px ' + FONT, align:'center', textAlign:'center'}),
  txt('C', 503, 522, {font:'bold 31px ' + FONT, align:'center', textAlign:'center'}),
  txt('D', 1108, 522, {font:'bold 31px ' + FONT, align:'center', textAlign:'center'}),
  richTxt('{n|Specific leaf area }{i|S L A}{n|, m}{s|2}{n| kg}{s|\u22121}', 311.5, 371),
  richTxt('{n|Plant stature }{i|H}{b|max}{n|, m}', 943.5, 371),
  richTxt('{n|Leaf mass }{i|M}{b|L}{n|, g}', 285, 780),
  richTxt('{n|Spec. cond. }{i|K}{b|s}{n|, kg m}{s|\u22121}{n| MPa}{s|\u22121}{n| s}{s|\u22121}', 931, 780),
  richTxt(yTitle, 39, 207.5, Math.PI/2),
  richTxt(yTitle, 641, 207.5, Math.PI/2),
  richTxt(yTitle, 39, 617, Math.PI/2),
  richTxt(yTitle, 641, 617, Math.PI/2)
];

const chart = echarts.init(document.getElementById('c'), null, {renderer:'canvas'});
chart.setOption({
  animation:false,
  backgroundColor:'#fff',
  textStyle:{fontFamily:FONT},
  grid:grids, xAxis:xAxes, yAxis:yAxes, series,
  graphic:{elements:graphics}
});
</script>
</body></html>
